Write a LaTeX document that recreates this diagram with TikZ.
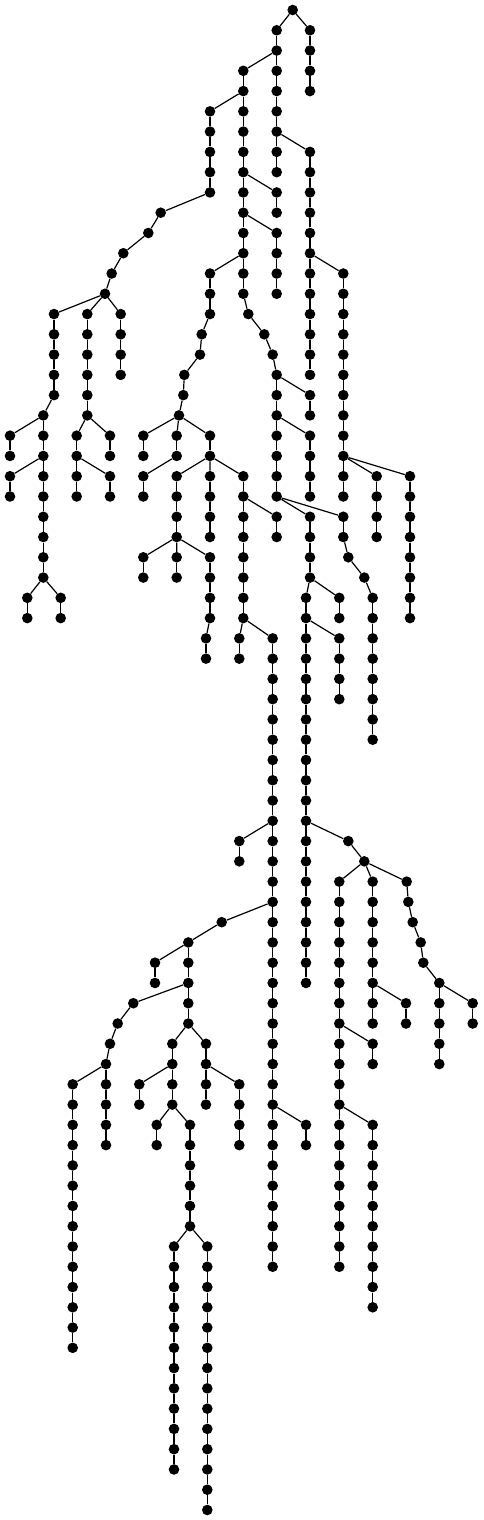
\documentclass[tikz,border=0pt]{standalone}
\begin{document}
\begin{tikzpicture}[x=1pt,y=-1pt,
  dot/.style={circle,fill=black,inner sep=0pt,minimum size=10.6pt},
  edge/.style={line width=1.2pt,black}]
\useasboundingbox (0,0) rectangle (483,1520);
\newcommand\vch[4]{%
  \foreach \rr in {#3,...,#4}{\node[dot] (#1-\rr) at (#2,{10+20.27*\rr}) {};}%
  \foreach \rr in {#3,...,#4}{\ifnum\rr>#3\relax\pgfmathtruncatemacro\pp{\rr-1}\draw[edge] (#1-\pp) -- (#1-\rr);\fi}%
}
\newcommand\sn[3]{\node[dot] (#1) at (#2,{10+20.27*#3}) {};}
% nodes
\sn{R}{292.7}{0}
\vch{A}{310}{1}{4}
\vch{B}{276.7}{1}{8}
\vch{C}{243.3}{3}{14}
\sn{c15}{248.3}{15}\sn{c16}{264.3}{16}\sn{c17}{272.7}{17}
\vch{D}{276.7}{18}{24}
\vch{F}{276.7}{9}{10}
\vch{G}{276.7}{11}{14}
\vch{I}{310}{7}{18}
\vch{J}{343.3}{13}{24}
\vch{K}{376.7}{23}{26}
\vch{L}{410}{23}{30}
\vch{E}{210}{5}{9}
\sn{e10}{160.7}{10}\sn{e11}{148.3}{11}\sn{e12}{123.3}{12}\sn{e13}{111.7}{13}\sn{e14}{105}{14}
\vch{M}{54}{15}{19}
\vch{N}{43.3}{20}{28}
\vch{O}{10}{21}{22}
\vch{P}{10}{23}{24}
\vch{Qa}{27.3}{29}{30}
\vch{Qb}{60.7}{29}{30}
\vch{S}{87.3}{15}{20}
\vch{T}{76.7}{21}{24}
\vch{U}{110}{23}{24}
\vch{V}{110}{21}{22}
\vch{W}{120.7}{15}{18}
\vch{H}{210}{13}{15}
\sn{h16}{201.7}{16}\sn{h17}{200}{17}\sn{h18}{184.3}{18}\sn{h19}{183.3}{19}\sn{h20}{179}{20}
\vch{Xa}{143.3}{21}{22}
\vch{Xb}{176.7}{21}{22}
\vch{Xc}{143.3}{23}{24}
\vch{Xd}{210}{21}{22}
\vch{Ya}{176.7}{23}{26}
\vch{Yb}{210}{23}{26}
\vch{Yc}{243.3}{23}{30}
\vch{Yd}{143.3}{27}{28}
\vch{Ye}{176.7}{27}{28}
\vch{Yf}{210}{27}{30}
\vch{Yg}{206}{31}{32}
\vch{Za}{276.7}{25}{26}
\vch{Zb}{239.3}{31}{32}
\vch{Zc}{272.7}{31}{62}
\vch{Zd}{239.3}{41}{42}
\sn{z45}{221.7}{45}
\vch{AA}{188.3}{46}{50}
\vch{AB}{155}{47}{48}
\sn{a49}{133.3}{49}\sn{a50}{117.7}{50}\sn{a51}{110}{51}
\vch{AC}{106}{52}{56}
\vch{AD}{72.7}{53}{66}
\vch{AE}{172.3}{51}{54}
\vch{AF}{139.3}{53}{54}
\vch{AH}{156.7}{55}{56}
\vch{AI}{190}{55}{60}
\vch{AJ}{174}{61}{72}
\vch{AK}{207.3}{61}{74}
\vch{AL}{206}{51}{54}
\vch{AN}{239.3}{53}{56}
\vch{AO}{306}{55}{56}
\vch{DA}{310}{19}{20}
\vch{DB}{310}{21}{24}
\vch{DC}{310}{25}{28}
\vch{DD}{343.3}{25}{26}
\sn{d27}{348.3}{27}\sn{d28}{364.3}{28}
\vch{DE}{372.7}{29}{36}
\vch{DF}{306}{29}{48}
\vch{DG}{339.3}{29}{30}
\vch{DH}{339.3}{31}{34}
\sn{f41}{348.3}{41}\sn{f42}{364.3}{42}
\vch{EA}{339.3}{43}{62}
\vch{EB}{372.7}{51}{52}
\vch{EC}{372.7}{55}{64}
\vch{ED}{372.7}{43}{50}
\vch{EE}{406}{49}{50}
\sn{g43}{406.7}{43}\sn{g44}{408.3}{44}\sn{g45}{412.7}{45}\sn{g46}{420.7}{46}\sn{g47}{423.3}{47}
\vch{EF}{439.3}{48}{52}
\vch{EG}{472.7}{49}{50}
% connectors
\draw[edge] (R)--(A-1) (R)--(B-1) (B-2)--(C-3) (C-14)--(c15)--(c16)--(c17)--(D-18)
  (C-8)--(F-9) (C-10)--(G-11) (B-6)--(I-7) (I-12)--(J-13) (J-22)--(K-23) (J-22)--(L-23)
  (C-4)--(E-5) (E-9)--(e10)--(e11)--(e12)--(e13)--(e14)
  (e14)--(M-15) (M-19)--(N-20) (N-20)--(O-21) (N-22)--(P-23) (N-28)--(Qa-29) (N-28)--(Qb-29)
  (e14)--(S-15) (S-20)--(T-21) (T-22)--(U-23) (S-20)--(V-21) (e14)--(W-15)
  (C-12)--(H-13) (H-15)--(h16)--(h17)--(h18)--(h19)--(h20)
  (h20)--(Xa-21) (h20)--(Xb-21) (Xb-22)--(Xc-23) (h20)--(Xd-21)
  (Xd-22)--(Ya-23) (Xd-22)--(Yb-23) (Xd-22)--(Yc-23)
  (Ya-26)--(Yd-27) (Ya-26)--(Ye-27) (Ya-26)--(Yf-27) (Yf-30)--(Yg-31)
  (Yc-24)--(Za-25) (Yc-30)--(Zb-31) (Yc-30)--(Zc-31) (Zc-40)--(Zd-41)
  (Zc-44)--(z45)--(AA-46) (AA-46)--(AB-47) (AA-48)--(a49)--(a50)--(a51)--(AC-52)
  (AC-52)--(AD-53) (AA-50)--(AE-51) (AE-52)--(AF-53) (AE-54)--(AH-55) (AE-54)--(AI-55)
  (AI-60)--(AJ-61) (AI-60)--(AK-61) (AA-50)--(AL-51) (AL-52)--(AN-53) (Zc-54)--(AO-55)
  (D-18)--(DA-19) (D-20)--(DB-21) (D-24)--(DC-25) (D-24)--(DD-25)
  (DD-26)--(d27)--(d28)--(DE-29) (DC-28)--(DF-29) (DC-28)--(DG-29) (DF-30)--(DH-31)
  (DF-40)--(f41)--(f42) (f42)--(EA-43) (EA-50)--(EB-51) (EA-54)--(EC-55)
  (f42)--(ED-43) (ED-48)--(EE-49)
  (f42)--(g43)--(g44)--(g45)--(g46)--(g47)--(EF-48) (EF-48)--(EG-49);
\end{tikzpicture}
\end{document}
